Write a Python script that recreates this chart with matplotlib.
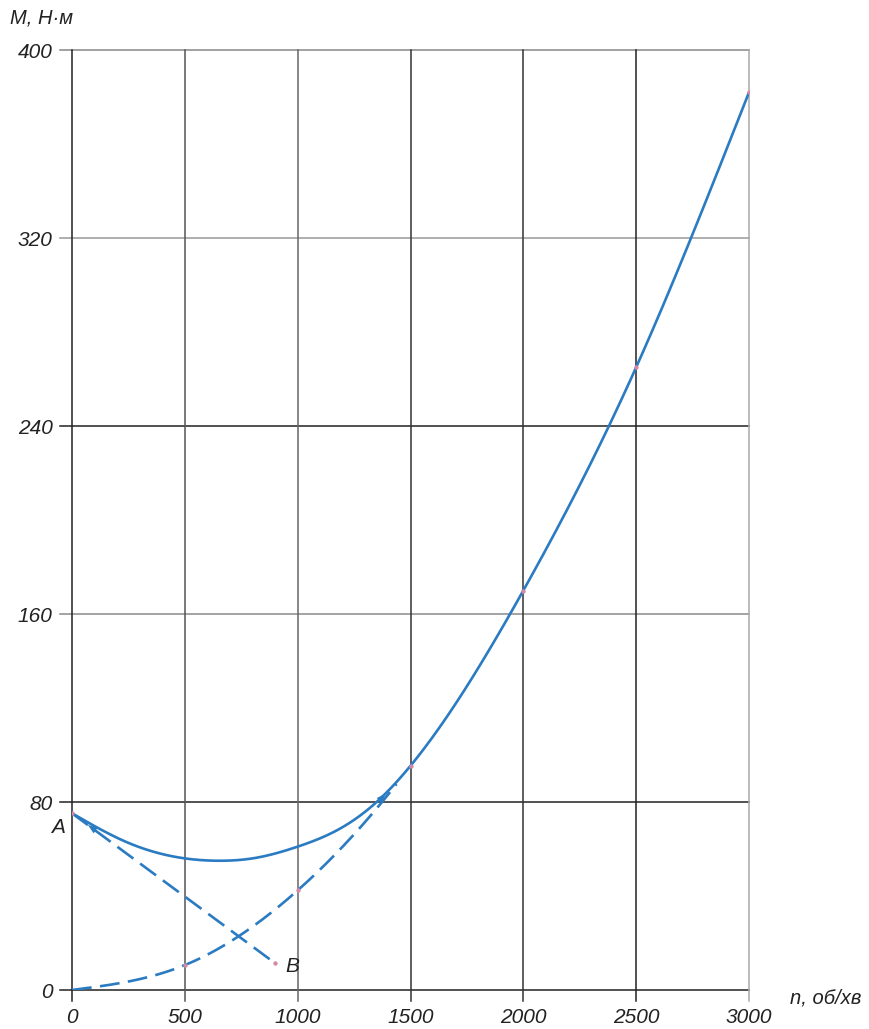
import numpy as np
import matplotlib
matplotlib.use("Agg")
import matplotlib.pyplot as plt

# Speed, rpm and torque, N·m
load_n = [0, 500, 1000, 1500, 2000, 2500, 3000]
load_m = [0, 10.6, 42.4, 95.4, 170.0, 265.0, 382.0]

motor_n = [0, 250, 500, 650, 800, 1000, 1175, 1350]
motor_m = [75.2, 62.6, 56.0, 55.0, 56.0, 61.0, 68.0, 80.0]

chord_n = [0, 900]
chord_m = [75.2, 11.4]

x_ticks = [0, 500, 1000, 1500, 2000, 2500, 3000]
y_ticks = [0, 80, 160, 240, 320, 400]
x_line_colors = ["#222222", "#555555", "#666666", "#333333", "#333333", "#222222", "#aaaaaa"]
y_line_colors = ["#222222", "#222222", "#8a8a8a", "#222222", "#999999", "#888888"]

BLUE = "#2a7bc2"
DOT = "#d28aa8"
FONT = dict(family="Liberation Sans", style="italic", fontsize=15, color="#222222")


def smooth(xs, ys, num=400):
    """Natural cubic spline through the given points, for drawing."""
    x = np.asarray(xs, float)
    y = np.asarray(ys, float)
    n = len(x)
    h = np.diff(x)
    A = np.zeros((n, n))
    r = np.zeros(n)
    A[0, 0] = A[-1, -1] = 1.0
    for i in range(1, n - 1):
        A[i, i - 1] = h[i - 1]
        A[i, i] = 2 * (h[i - 1] + h[i])
        A[i, i + 1] = h[i]
        r[i] = 6 * ((y[i + 1] - y[i]) / h[i] - (y[i] - y[i - 1]) / h[i - 1])
    m = np.linalg.solve(A, r)
    xx = np.linspace(x[0], x[-1], num)
    k = np.clip(np.searchsorted(x, xx) - 1, 0, n - 2)
    t = xx - x[k]
    hk = h[k]
    a = y[k]
    b = (y[k + 1] - y[k]) / hk - hk * (2 * m[k] + m[k + 1]) / 6
    c = m[k] / 2
    d = (m[k + 1] - m[k]) / (6 * hk)
    return xx, a + b * t + c * t ** 2 + d * t ** 3


fig = plt.figure(figsize=(8.69, 10.29), dpi=100)
ax = fig.add_axes([72 / 869, 39 / 1029, 677 / 869, 940 / 1029])
ax.set_xlim(0, 3000)
ax.set_ylim(0, 400)
for s in ax.spines.values():
    s.set_visible(False)

# grid lines, each running a little past the frame as a tick
ext_x = 12 / 677
ext_y = 11 / 940
for v, c in zip(y_ticks, y_line_colors):
    ax.plot([-ext_x, 1], [v, v], color=c, lw=1.1, transform=ax.get_yaxis_transform(),
            clip_on=False, zorder=1)
for v, c in zip(x_ticks, x_line_colors):
    ax.plot([v, v], [-ext_y, 1], color=c, lw=1.1, transform=ax.get_xaxis_transform(),
            clip_on=False, zorder=1)

ax.set_xticks(x_ticks)
ax.set_yticks(y_ticks)
ax.set_xticklabels([str(v) for v in x_ticks], **FONT)
ax.set_yticklabels([str(v) for v in y_ticks], **FONT)
ax.tick_params(axis="x", length=0, pad=13)
ax.tick_params(axis="y", length=0, pad=14)

# load characteristic: dashed below the junction
pn, pm = smooth(load_n, load_m, 800)
join = 1440
ax.plot(pn[pn <= join], pm[pn <= join], color=BLUE, lw=1.9, dashes=(7.5, 3.2), zorder=3)

# resulting characteristic from A, merging into the load curve
full_n = motor_n + [v for v in load_n if v > motor_n[-1]]
full_m = motor_m + [m for v, m in zip(load_n, load_m) if v > motor_n[-1]]
fn, fm = smooth(full_n, full_m, 800)
ax.plot(fn, fm, color=BLUE, lw=1.9, solid_capstyle="round", zorder=3)

# straight chord A-B
ax.plot(chord_n, chord_m, color=BLUE, lw=1.9, dashes=(7.5, 3.2), zorder=3)

# direction arrows
ax.annotate("", xy=(60, 71.0), xytext=(170, 63.2),
            arrowprops=dict(arrowstyle="-|>,head_length=0.7,head_width=0.25", color=BLUE, lw=0),
            zorder=4)
ax.annotate("", xy=(1400, 84.5), xytext=(1330, 77.5),
            arrowprops=dict(arrowstyle="-|>,head_length=0.7,head_width=0.25", color=BLUE, lw=0),
            zorder=4)

# computed points
ax.scatter(load_n[1:], load_m[1:], s=10, color=DOT, zorder=5, linewidths=0)
ax.scatter(chord_n, chord_m, s=10, color=DOT, zorder=5, linewidths=0)

ax.text(-62, 69, "A", ha="center", va="center", **FONT)
ax.text(975, 10, "B", ha="center", va="center", **FONT)

fig.text(10 / 869, 1 - 18 / 1029, "M, Н·м", ha="left", va="center",
         family="Liberation Sans", style="italic", fontsize=14.5, color="#222222")
fig.text(790 / 869, 1 - 998 / 1029, "n, об/хв", ha="left", va="center",
         family="Liberation Sans", style="italic", fontsize=14.5, color="#222222")

fig.savefig("out.png", dpi=100, facecolor="white")
